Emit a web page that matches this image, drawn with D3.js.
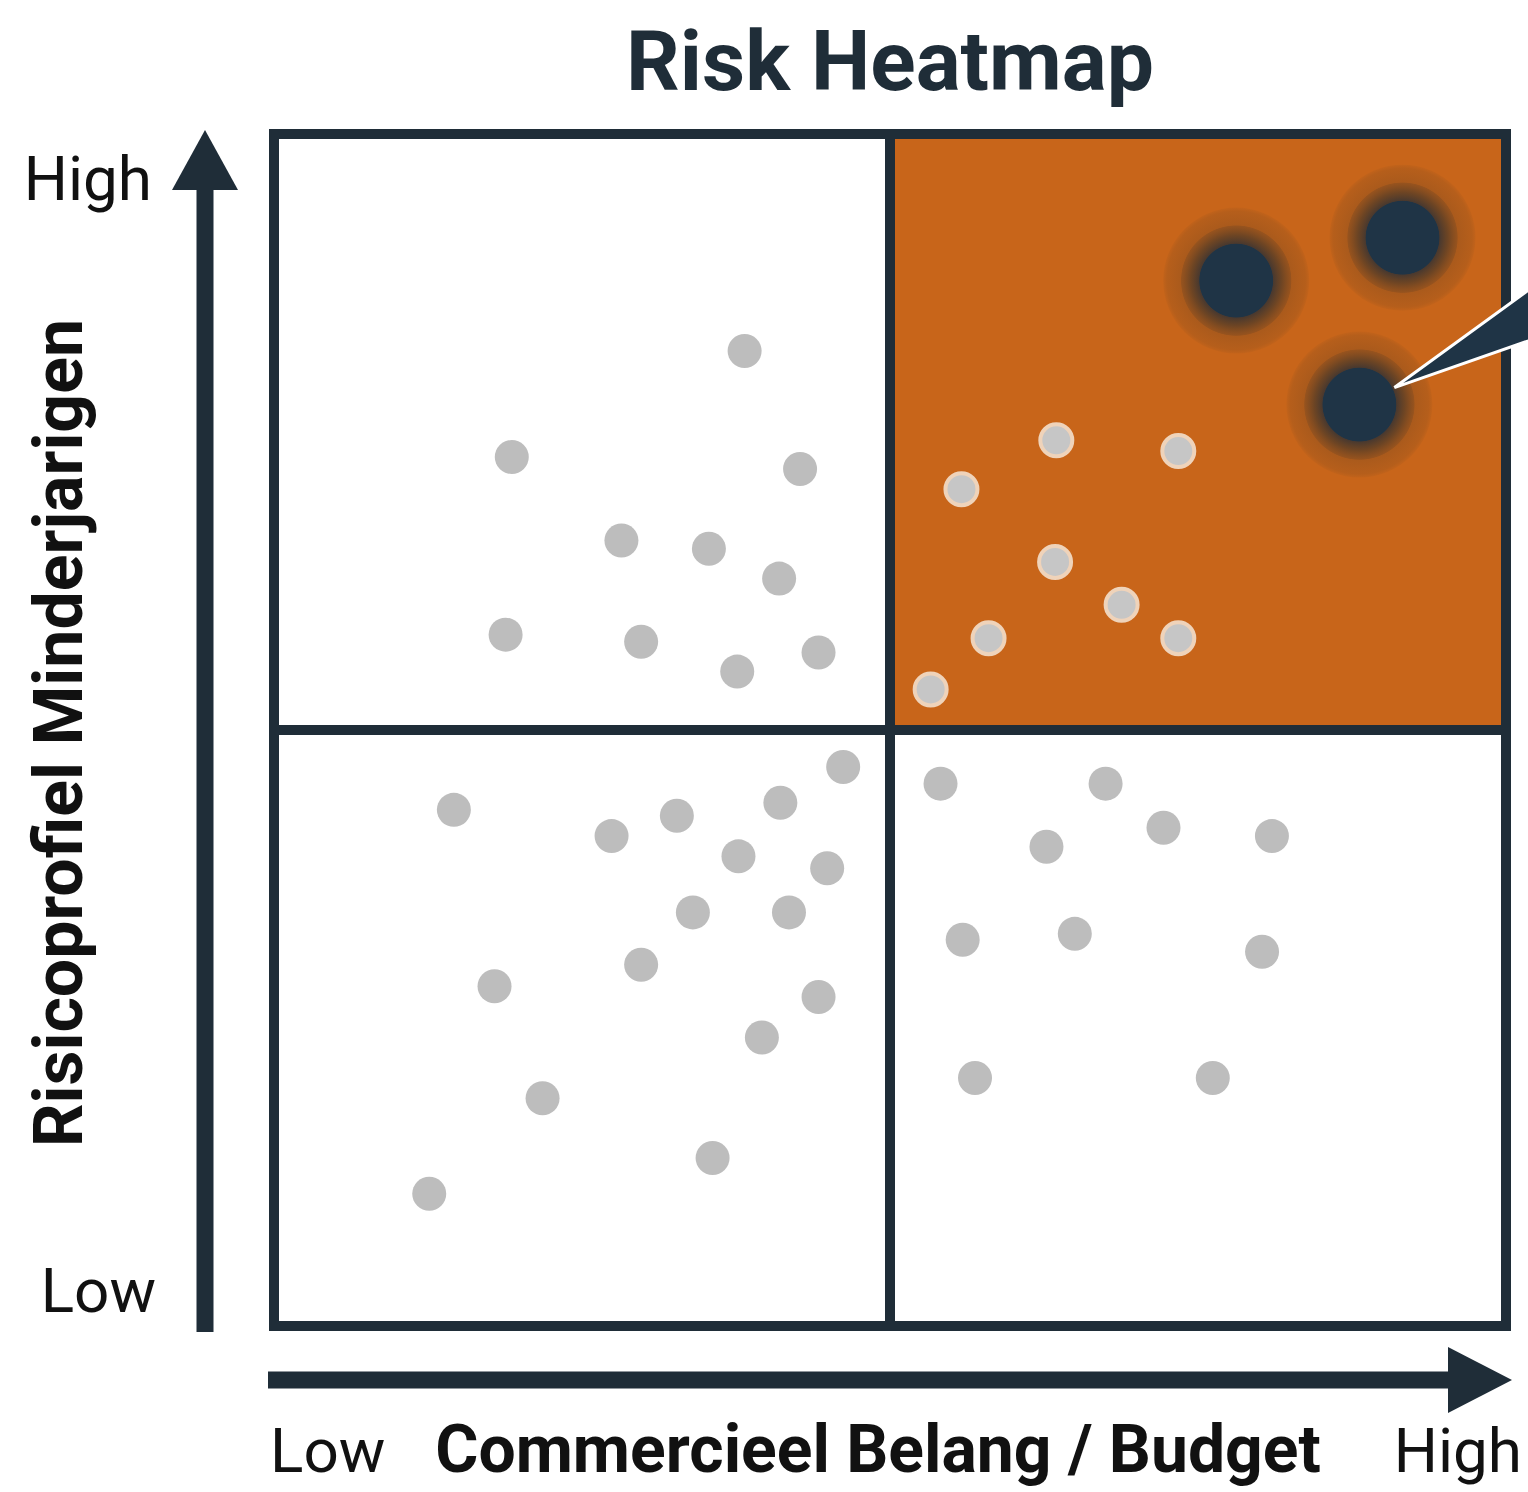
<!DOCTYPE html>
<html>
<head>
<meta charset="utf-8">
<script src="https://cdn.jsdelivr.net/npm/d3@7"></script>
<style>
  body { margin: 0; background: #fff; }
  svg { display: block; }
</style>
</head>
<body>
<div id="chart"></div>
<script>
// Gegevens (schaal 0-10 op beide assen)
const lowPoints = [
  [3.82, 8.18], [1.93, 7.29], [4.27, 7.19], [2.82, 6.59], [3.53, 6.52],
  [4.10, 6.27], [1.88, 5.80], [2.98, 5.74], [3.76, 5.49], [4.42, 5.65],
  [4.62, 4.69], [1.46, 4.33], [4.11, 4.39], [3.27, 4.28], [2.74, 4.11],
  [3.77, 3.94], [4.49, 3.84], [3.40, 3.47], [4.18, 3.47], [1.79, 2.85],
  [2.98, 3.03], [4.42, 2.76], [3.96, 2.42], [2.18, 1.91], [3.56, 1.41],
  [1.26, 1.11],
  [5.41, 4.55], [6.75, 4.55], [7.22, 4.18], [8.10, 4.11], [6.27, 4.02],
  [5.59, 3.24], [6.50, 3.29], [8.02, 3.14], [5.69, 2.08], [7.62, 2.08]
];
const hotPoints = [
  [6.35, 7.43], [7.34, 7.34], [5.58, 7.02], [6.34, 6.41],
  [6.88, 6.05], [5.80, 5.77], [7.34, 5.77], [5.33, 5.34]
];
const criticalPoints = [[7.81, 8.77], [9.16, 9.13], [8.81, 7.73]];
const calloutIndex = 2;
const quadrants = [
  { x0: 0, x1: 5, y0: 5, y1: 10, hot: false },
  { x0: 5, x1: 10, y0: 5, y1: 10, hot: true },
  { x0: 0, x1: 5, y0: 0, y1: 5, hot: false },
  { x0: 5, x1: 10, y0: 0, y1: 5, hot: false }
];
const title = "Risk Heatmap";
const xTitle = "Commercieel Belang / Budget";
const yTitle = "Risicoprofiel Minderjarigen";
const lowLabel = "Low";
const highLabel = "High";

const width = 1528;
const height = 1492;
const navy = "#1f2d38";
const orange = "#c8651a";

const x = d3.scaleLinear().domain([0, 10]).range([274, 1506]);
const y = d3.scaleLinear().domain([0, 10]).range([1326, 134]);

const svg = d3.select("#chart").append("svg")
    .attr("width", width)
    .attr("height", height)
    .attr("font-family", "Roboto, 'Open Sans', sans-serif");

const defs = svg.append("defs");
const halo = defs.append("radialGradient").attr("id", "halo");
[[0, "#1f3446", 1], [0.5, "#1f3446", 1], [0.51, "#3b3431", 0.9],
 [0.62, "#4f3a27", 0.75], [0.75, "#6e4421", 0.55], [0.76, "#7d4a1f", 0.4],
 [0.95, "#8a4f1e", 0.3], [1, "#8a4f1e", 0.1]]
  .forEach(([o, c, a]) => halo.append("stop")
      .attr("offset", o).attr("stop-color", c).attr("stop-opacity", a));

// Titel
svg.append("text")
    .attr("x", (x(0) + x(10)) / 2)
    .attr("y", 90)
    .attr("text-anchor", "middle")
    .attr("font-size", 84)
    .attr("font-weight", 700)
    .attr("fill", navy)
    .text(title);

// Kwadranten
svg.append("g").selectAll("rect")
  .data(quadrants)
  .join("rect")
    .attr("x", d => x(d.x0))
    .attr("y", d => y(d.y1))
    .attr("width", d => x(d.x1) - x(d.x0))
    .attr("height", d => y(d.y0) - y(d.y1))
    .attr("fill", d => d.hot ? orange : "#fff")
    .attr("stroke", navy)
    .attr("stroke-width", 10);

// Punten met laag risico
svg.append("g").selectAll("circle")
  .data(lowPoints)
  .join("circle")
    .attr("cx", d => x(d[0]))
    .attr("cy", d => y(d[1]))
    .attr("r", 17)
    .attr("fill", "#bdbdbd");

// Punten in het rode kwadrant
svg.append("g").selectAll("circle")
  .data(hotPoints)
  .join("circle")
    .attr("cx", d => x(d[0]))
    .attr("cy", d => y(d[1]))
    .attr("r", 16)
    .attr("fill", "#c6c6c6")
    .attr("stroke", "#efd3ba")
    .attr("stroke-width", 4);

// Kritieke punten met halo
svg.append("g").selectAll("circle")
  .data(criticalPoints)
  .join("circle")
    .attr("cx", d => x(d[0]))
    .attr("cy", d => y(d[1]))
    .attr("r", 73)
    .attr("fill", "url(#halo)");

// Aanwijzer naar buiten de grafiek
const cp = criticalPoints[calloutIndex];
const tipX = x(cp[0]) + 35, tipY = y(cp[1]) - 17;
svg.append("path")
    .attr("d", `M${tipX},${tipY} L${width + 4},${tipY - 100} L${width + 4},${tipY - 48} Z`)
    .attr("fill", "#1f3446")
    .attr("stroke", "#fff")
    .attr("stroke-width", 3)
    .attr("stroke-linejoin", "miter");

// Assen met pijlen
const axisG = svg.append("g").attr("fill", navy);
const ax = 205;
axisG.append("rect")
    .attr("x", ax - 8.5).attr("y", 180)
    .attr("width", 17).attr("height", y(0) + 6 - 180);
axisG.append("path")
    .attr("d", `M${ax},${y(10) - 4} L${ax + 33},${y(10) + 56} L${ax - 33},${y(10) + 56} Z`);
const ay = 1380;
axisG.append("rect")
    .attr("x", x(0) - 6).attr("y", ay - 8.5)
    .attr("width", 1460 - x(0) + 6).attr("height", 17);
axisG.append("path")
    .attr("d", `M${x(10) + 6},${ay} L${1448},${ay - 33} L${1448},${ay + 33} Z`);

// As-labels
const lbl = svg.append("g").attr("fill", "#111").attr("font-size", 62);
lbl.append("text").attr("x", 152).attr("y", 200).attr("text-anchor", "end").text(highLabel);
lbl.append("text").attr("x", 156).attr("y", 1312).attr("text-anchor", "end").text(lowLabel);
lbl.append("text").attr("x", 270).attr("y", 1472).text(lowLabel);
lbl.append("text").attr("x", 1522).attr("y", 1472).attr("text-anchor", "end").text(highLabel);

svg.append("text")
    .attr("x", 878).attr("y", 1472)
    .attr("text-anchor", "middle")
    .attr("font-size", 66).attr("font-weight", 700).attr("fill", "#111")
    .text(xTitle);

svg.append("text")
    .attr("transform", `translate(82,${(y(0) + y(10)) / 2 + 3}) rotate(-90)`)
    .attr("text-anchor", "middle")
    .attr("font-size", 68).attr("font-weight", 700).attr("fill", "#111")
    .text(yTitle);
</script>
</body>
</html>
